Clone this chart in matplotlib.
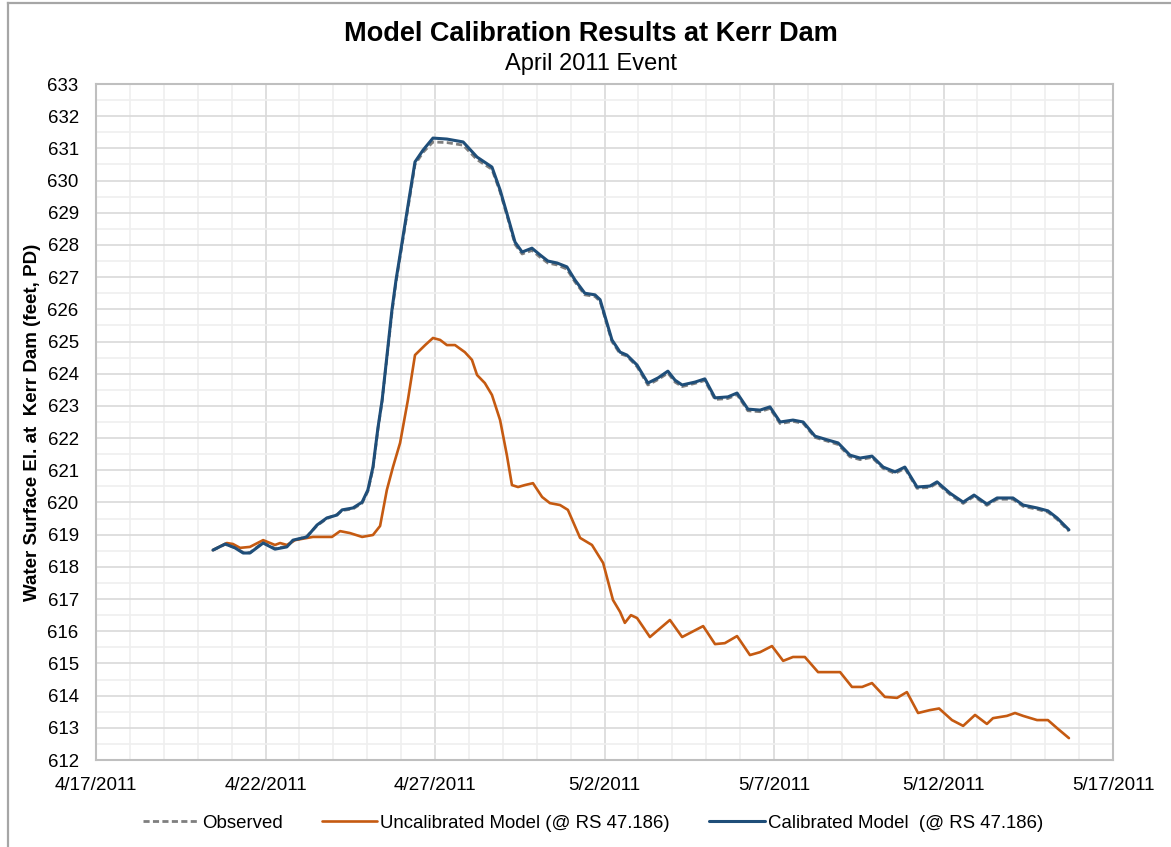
import numpy as np
import pandas as pd
import matplotlib
matplotlib.use("Agg")
import matplotlib.pyplot as plt
import matplotlib.dates as mdates
from matplotlib.lines import Line2D

plt.rcParams['font.family'] = ['Liberation Sans', 'DejaVu Sans']

# ---------------- data (days after 4/17/2011 00:00, water surface elevation ft) -------------
calib_days = [3.45, 3.81, 4.10, 4.34, 4.54, 4.93, 5.28, 5.63, 5.81, 6.22, 6.52, 6.81, 7.11,
              7.26, 7.58, 7.85, 8.02, 8.17, 8.32, 8.44, 8.73, 8.85, 9.12, 9.41, 9.65, 9.94,
              10.35, 10.83, 11.24, 11.68, 11.92, 12.15, 12.36, 12.57, 12.86, 13.10, 13.33,
              13.60, 13.89, 14.13, 14.42, 14.72, 14.87, 15.22, 15.46, 15.66, 15.96, 16.28,
              16.58, 16.87, 17.08, 17.29, 17.67, 17.96, 18.26, 18.64, 18.91, 19.23, 19.59,
              19.88, 20.18, 20.56, 20.86, 21.21, 21.59, 21.89, 22.24, 22.54, 22.89, 23.22,
              23.57, 23.86, 24.22, 24.60, 24.81, 25.19, 25.58, 25.90, 26.28, 26.58, 27.05,
              27.35, 27.76, 28.08, 28.35, 28.70]
calib_wse = [618.52, 618.71, 618.59, 618.43, 618.43, 618.74, 618.55, 618.62, 618.83, 618.93,
             619.30, 619.52, 619.61, 619.77, 619.83, 620.01, 620.39, 621.10, 622.34, 623.18,
             625.98, 626.91, 628.68, 630.58, 630.95, 631.32, 631.29, 631.20, 630.73, 630.42,
             629.71, 628.87, 628.09, 627.78, 627.90, 627.69, 627.50, 627.44, 627.32, 626.91,
             626.50, 626.45, 626.30, 625.05, 624.67, 624.58, 624.27, 623.71, 623.87, 624.08,
             623.80, 623.65, 623.74, 623.84, 623.25, 623.28, 623.40, 622.90, 622.87, 622.97,
             622.50, 622.56, 622.50, 622.06, 621.94, 621.85, 621.47, 621.38, 621.44, 621.10,
             620.95, 621.10, 620.48, 620.51, 620.64, 620.29, 620.01, 620.23, 619.95, 620.14,
             620.14, 619.92, 619.83, 619.74, 619.52, 619.15]
obs_wse = [618.52, 618.70, 618.60, 618.45, 618.44, 618.76, 618.57, 618.64, 618.80, 618.95,
           619.28, 619.50, 619.63, 619.75, 619.80, 619.98, 620.35, 621.05, 622.30, 623.15,
           625.90, 626.85, 628.60, 630.50, 630.88, 631.20, 631.18, 631.10, 630.65, 630.35,
           629.65, 628.82, 628.02, 627.72, 627.83, 627.62, 627.44, 627.38, 627.25, 626.85,
           626.45, 626.40, 626.25, 625.00, 624.62, 624.55, 624.22, 623.65, 623.82, 624.02,
           623.74, 623.60, 623.70, 623.79, 623.20, 623.23, 623.35, 622.85, 622.82, 622.92,
           622.45, 622.52, 622.46, 622.02, 621.90, 621.80, 621.42, 621.33, 621.40, 621.06,
           620.90, 621.06, 620.44, 620.47, 620.60, 620.25, 619.97, 620.19, 619.91, 620.10,
           620.10, 619.88, 619.79, 619.70, 619.48, 619.11]

uncal_days = [3.45, 3.86, 4.04, 4.25, 4.54, 4.93, 5.28, 5.43, 5.63, 5.87, 6.40, 6.96, 7.20,
              7.49, 7.85, 8.17, 8.38, 8.58, 8.76, 8.97, 9.20, 9.41, 9.71, 9.94, 10.15, 10.35,
              10.59, 10.88, 11.09, 11.24, 11.47, 11.68, 11.92, 12.12, 12.27, 12.45, 12.65,
              12.89, 13.16, 13.39, 13.69, 13.92, 14.28, 14.63, 14.96, 15.25, 15.46, 15.60,
              15.78, 15.96, 16.34, 16.93, 17.29, 17.91, 18.26, 18.55, 18.91, 19.29, 19.59,
              19.94, 20.27, 20.56, 20.91, 21.30, 21.95, 22.30, 22.60, 22.89, 23.27, 23.63,
              23.92, 24.25, 24.60, 24.87, 25.25, 25.58, 25.93, 26.28, 26.46, 26.87, 27.11,
              27.35, 27.76, 28.08, 28.35, 28.70]
uncal_wse = [618.52, 618.74, 618.71, 618.59, 618.62, 618.83, 618.68, 618.74, 618.68, 618.83,
             618.93, 618.93, 619.11, 619.05, 618.93, 618.99, 619.27, 620.39, 621.10, 621.85,
             623.18, 624.58, 624.89, 625.11, 625.05, 624.89, 624.89, 624.67, 624.43, 623.96,
             623.71, 623.34, 622.56, 621.47, 620.54, 620.48, 620.54, 620.60, 620.17, 619.98,
             619.92, 619.77, 618.90, 618.68, 618.12, 616.97, 616.60, 616.26, 616.50, 616.41,
             615.82, 616.35, 615.82, 616.16, 615.60, 615.63, 615.85, 615.26, 615.35, 615.54,
             615.08, 615.20, 615.20, 614.73, 614.73, 614.27, 614.27, 614.39, 613.96, 613.93,
             614.11, 613.46, 613.55, 613.60, 613.24, 613.06, 613.40, 613.12, 613.30, 613.37,
             613.46, 613.37, 613.24, 613.24, 612.99, 612.68]

start_date = "2011-04-17"
end_date = "2011-05-17"
y_min, y_max = 612, 633
series_labels = ["Observed", "Uncalibrated Model (@ RS 47.186)", "Calibrated Model  (@ RS 47.186)"]
title = "Model Calibration Results at Kerr Dam"
subtitle = "April 2011 Event"
y_label = "Water Surface El. at  Kerr Dam (feet, PD)"

# ---------------- figure ----------------
W, H = 1171, 847
fig = plt.figure(figsize=(W / 100, H / 100), dpi=100)
fig.patch.set_facecolor("white")

# outer chart-area border (left and top visible)
fig.add_artist(Line2D([8 / W, 8 / W], [0, 1 - 3 / H], transform=fig.transFigure,
                      color="#a6a6a6", lw=1.6))
fig.add_artist(Line2D([8 / W, 1], [1 - 3 / H, 1 - 3 / H], transform=fig.transFigure,
                      color="#a6a6a6", lw=1.6))

left, right, top, bottom = 96, 1113, 84, 760
ax = fig.add_axes([left / W, 1 - bottom / H, (right - left) / W, (bottom - top) / H])

base = pd.Timestamp(start_date)
t_cal = base + pd.to_timedelta(calib_days, unit="D")
t_unc = base + pd.to_timedelta(uncal_days, unit="D")

blue = "#1f4e79"
orange = "#c55a11"
gray = "#7f7f7f"

common = dict(solid_joinstyle="round", solid_capstyle="round")
ax.plot(t_cal, obs_wse, color=gray, lw=2.0, ls=(0, (2.2, 1.2)), zorder=3,
        label=series_labels[0], dash_joinstyle="round")
ax.plot(t_unc, uncal_wse, color=orange, lw=1.9, zorder=4, label=series_labels[1], **common)
ax.plot(t_cal, calib_wse, color=blue, lw=2.2, zorder=5, label=series_labels[2], **common)

ax.set_xlim(pd.Timestamp(start_date), pd.Timestamp(end_date))
ax.set_ylim(y_min, y_max)

major_days = pd.date_range(start_date, end_date, freq="5D")
minor_days = pd.date_range(start_date, end_date, freq="1D")
ax.xaxis.set_major_locator(matplotlib.ticker.FixedLocator(mdates.date2num(major_days)))
ax.xaxis.set_minor_locator(matplotlib.ticker.FixedLocator(mdates.date2num(minor_days)))
ax.xaxis.set_major_formatter(matplotlib.ticker.FuncFormatter(
    lambda v, p: f"{mdates.num2date(v).month}/{mdates.num2date(v).day}/{mdates.num2date(v).year}"))
ax.yaxis.set_major_locator(matplotlib.ticker.MultipleLocator(1))
ax.yaxis.set_minor_locator(matplotlib.ticker.MultipleLocator(0.5))

ax.grid(which="major", color="#d9d9d9", lw=1.2, zorder=0)
ax.grid(which="minor", color="#efefef", lw=1.2, zorder=0)
ax.set_axisbelow(True)
ax.tick_params(which="both", length=0)
ax.tick_params(axis="y", pad=12.5, labelsize=13.4)
ax.tick_params(axis="x", pad=12.5, labelsize=13.6)
for s in ax.spines.values():
    s.set_color("#bfbfbf")
    s.set_linewidth(1.5)

fig.text(33 / W, 1 - 422 / H, y_label, rotation=90, ha="center", va="center",
         fontsize=13.5, fontweight="bold")

fig.text(591 / W, 1 - 34 / H, title, ha="center", va="center", fontsize=19.5, fontweight="bold")
fig.text(591 / W, 1 - 64 / H, subtitle, ha="center", va="center", fontsize=17)

leg = fig.legend(loc="center", bbox_to_anchor=(593 / W, 1 - 823 / H), ncol=3, frameon=False,
                 fontsize=13.4, handlelength=3.0, handletextpad=0.15, columnspacing=2.1)

fig.savefig("out.png", dpi=100)
